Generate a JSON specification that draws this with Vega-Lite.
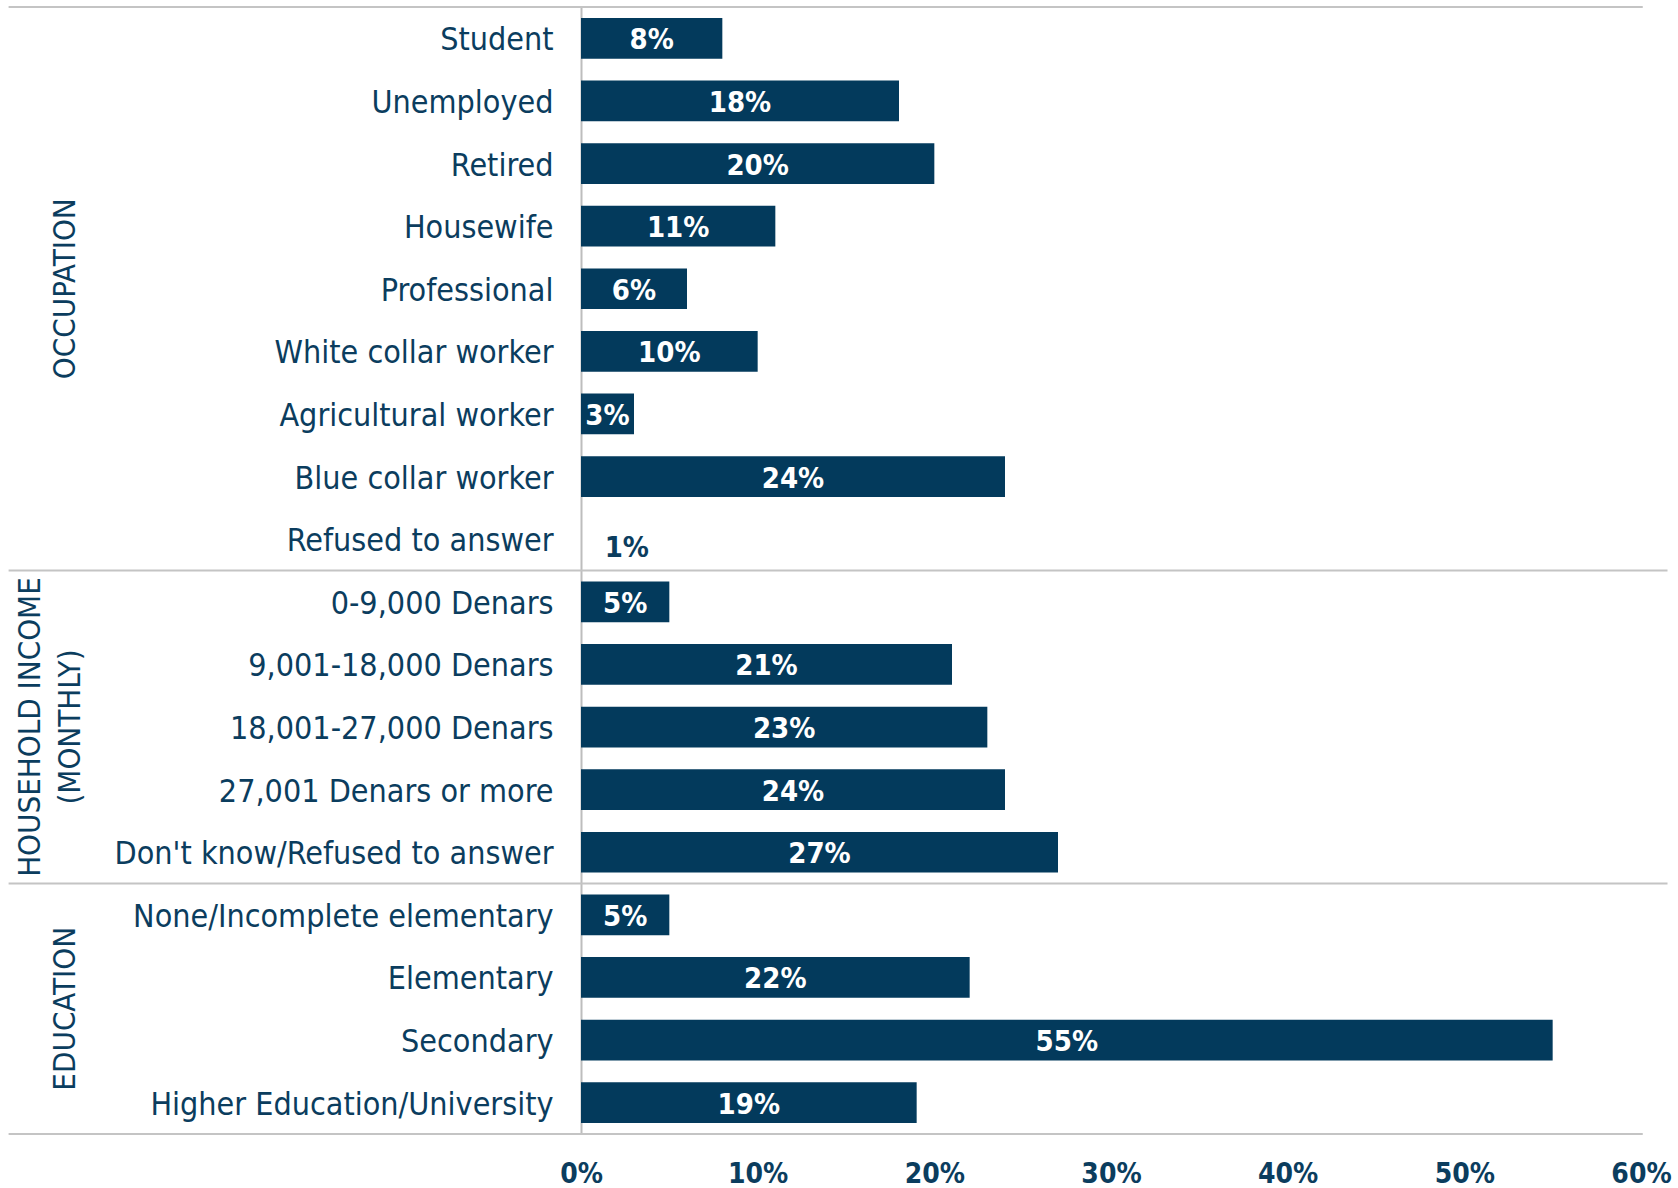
{
  "$schema": "https://vega.github.io/schema/vega-lite/v6.json",
  "autosize": "none",
  "width": 1060,
  "height": 1127,
  "padding": {"left": 581, "top": 7, "right": 37, "bottom": 54},
  "background": "white",
  "config": {
    "view": {"stroke": null},
    "font": "DejaVu Sans Condensed"
  },
  "datasets": {
    "rows": [
      {"group": "Occupation", "label": "Student", "value": 0.08},
      {"group": "Occupation", "label": "Unemployed", "value": 0.18},
      {"group": "Occupation", "label": "Retired", "value": 0.20},
      {"group": "Occupation", "label": "Housewife", "value": 0.11},
      {"group": "Occupation", "label": "Professional", "value": 0.06},
      {"group": "Occupation", "label": "White collar worker", "value": 0.10},
      {"group": "Occupation", "label": "Agricultural worker", "value": 0.03},
      {"group": "Occupation", "label": "Blue collar worker", "value": 0.24},
      {"group": "Occupation", "label": "Refused to answer", "value": 0.01},
      {"group": "Household income", "label": "0-9,000 Denars", "value": 0.05},
      {"group": "Household income", "label": "9,001-18,000 Denars", "value": 0.21},
      {"group": "Household income", "label": "18,001-27,000 Denars", "value": 0.23},
      {"group": "Household income", "label": "27,001 Denars or more", "value": 0.24},
      {"group": "Household income", "label": "Don't know/Refused to answer", "value": 0.27},
      {"group": "Education", "label": "None/Incomplete elementary", "value": 0.05},
      {"group": "Education", "label": "Elementary", "value": 0.22},
      {"group": "Education", "label": "Secondary", "value": 0.55},
      {"group": "Education", "label": "Higher Education/University", "value": 0.19}
    ],
    "lines": [
      {"row": 0, "from": -0.324, "to": 0.601},
      {"row": 9, "from": -0.324, "to": 0.615},
      {"row": 14, "from": -0.324, "to": 0.615},
      {"row": 18, "from": -0.324, "to": 0.601}
    ],
    "sections": [
      {"name": ["OCCUPATION"], "xpos": -0.2915, "row": 4.5},
      {"name": ["HOUSEHOLD INCOME", "(MONTHLY)"], "xpos": -0.3114, "row": 11.5},
      {"name": ["EDUCATION"], "xpos": -0.2915, "row": 16}
    ]
  },
  "resolve": {"scale": {"x": "independent", "y": "independent"}},
  "layer": [
    {
      "data": {"name": "lines"},
      "mark": {"type": "rule", "color": "#c4c4c4", "strokeWidth": 2},
      "encoding": {
        "x": {"field": "from", "type": "quantitative", "scale": {"domain": [0, 0.6], "nice": false, "zero": false}, "axis": null},
        "x2": {"field": "to"},
        "y": {"field": "row", "type": "quantitative", "scale": {"domain": [0, 18], "reverse": true, "nice": false, "zero": false}, "axis": null}
      }
    },
    {
      "data": {"name": "sections"},
      "mark": {"type": "text", "angle": 270, "align": "center", "baseline": "middle", "fontSize": 31, "color": "#0b3d5e", "lineHeight": 40},
      "encoding": {
        "x": {"field": "xpos", "type": "quantitative", "scale": {"domain": [0, 0.6], "nice": false, "zero": false}, "axis": null},
        "y": {"field": "row", "type": "quantitative", "scale": {"domain": [0, 18], "reverse": true, "nice": false, "zero": false}, "axis": null},
        "text": {"field": "name"}
      }
    },
    {
      "data": {"name": "rows"},
      "mark": {"type": "bar", "color": "#033a5c"},
      "encoding": {
        "y": {
          "field": "label", "type": "nominal", "sort": null,
          "scale": {"paddingInner": 0.35, "paddingOuter": 0.175},
          "axis": {
            "title": null, "ticks": false, "domain": true, "domainColor": "#bdbdbd", "domainWidth": 2,
            "labelFontSize": 32, "labelColor": "#0b3d5e", "labelPadding": 28, "labelLimit": 700,
            "labelOffset": 2, "labelFont": "DejaVu Sans Condensed"
          }
        },
        "x": {
          "field": "value", "type": "quantitative",
          "scale": {"domain": [0, 0.6], "nice": false},
          "axis": {
            "title": null, "format": ".0%", "values": [0, 0.1, 0.2, 0.3, 0.4, 0.5, 0.6],
            "ticks": false, "domain": false, "grid": false, "labelFlush": false,
            "labelFontSize": 28, "labelFontWeight": "bold", "labelColor": "#0b3d5e", "labelPadding": 26,
            "labelFont": "DejaVu Sans Condensed"
          }
        },
        "fillOpacity": {
          "condition": {"test": "datum.value < 0.02", "value": 0},
          "value": 1
        }
      }
    },
    {
      "data": {"name": "rows"},
      "mark": {"type": "text", "color": "white", "fontWeight": "bold", "fontSize": 29, "align": "center", "baseline": "middle", "dy": 2},
      "encoding": {
        "y": {"field": "label", "type": "nominal", "sort": null, "scale": {"paddingInner": 0.35, "paddingOuter": 0.175}, "axis": null},
        "x": {"field": "value", "type": "quantitative", "scale": {"domain": [0, 1.2], "nice": false}, "axis": null},
        "text": {"field": "value", "type": "quantitative", "format": ".0%"},
        "opacity": {"condition": {"test": "datum.value < 0.02", "value": 0}, "value": 1}
      }
    },
    {
      "data": {"name": "rows"},
      "mark": {"type": "text", "color": "#0b3d5e", "fontWeight": "bold", "fontSize": 29, "align": "left", "baseline": "middle", "dx": 6, "dy": 9},
      "encoding": {
        "y": {"field": "label", "type": "nominal", "sort": null, "scale": {"paddingInner": 0.35, "paddingOuter": 0.175}, "axis": null},
        "x": {"field": "value", "type": "quantitative", "scale": {"domain": [0, 0.6], "nice": false}, "axis": null},
        "text": {"field": "value", "type": "quantitative", "format": ".0%"},
        "opacity": {"condition": {"test": "datum.value < 0.02", "value": 1}, "value": 0}
      }
    }
  ]
}
